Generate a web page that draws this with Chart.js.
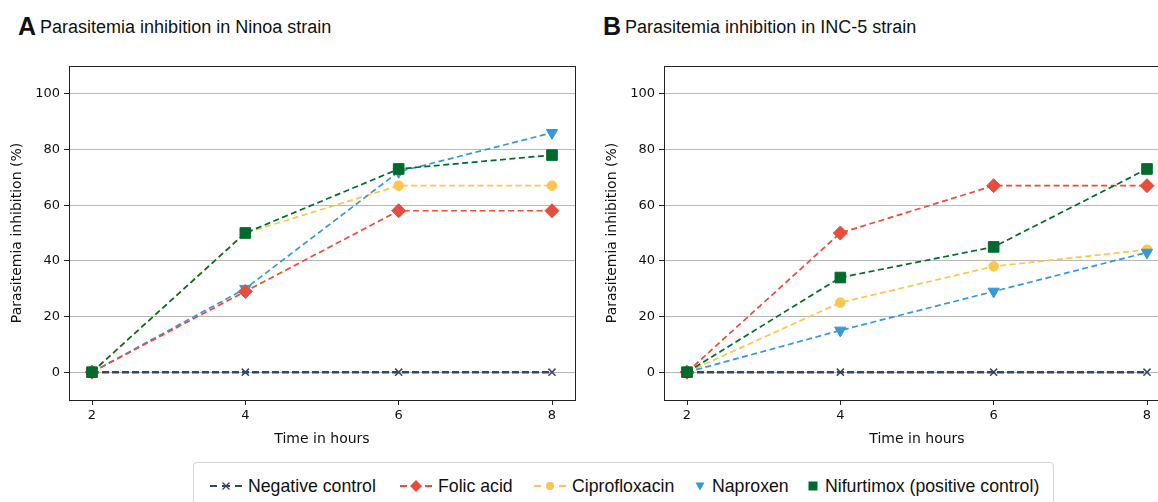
<!DOCTYPE html>
<html>
<head>
<meta charset="utf-8">
<script src="https://cdn.jsdelivr.net/npm/chart.js@4.4.0/dist/chart.umd.min.js"></script>
<style>
  html, body { margin:0; padding:0; background:#fff; }
  body { width:1158px; height:502px; overflow:hidden; position:relative; font-family:"Liberation Sans", Arial, sans-serif; }
  canvas { position:absolute; top:0; }
  .ttl { position:absolute; top:12px; font-size:18px; color:#111; white-space:nowrap; }
  .ttl b { font-size:25px; font-weight:bold; margin-right:4px; vertical-align:-2px; }
  #legend { position:absolute; left:193px; top:462px; width:861px; height:44px; border:1px solid #d4d4d4; border-radius:4px; box-sizing:border-box; }
  .li { position:absolute; top:3px; height:40px; display:flex; align-items:center; font-size:17.7px; color:#111; white-space:nowrap; }
  .li svg { margin-right:6px; }
</style>
</head>
<body>
<div class="ttl" style="left:18px;"><b>A</b>Parasitemia inhibition in Ninoa strain</div>
<div class="ttl" style="left:603px;"><b>B</b>Parasitemia inhibition in INC-5 strain</div>
<canvas id="cA" width="590" height="455" style="left:0px;"></canvas>
<canvas id="cB" width="590" height="455" style="left:595px;"></canvas>
<div id="legend"></div>
<script>
// ---- data ----
const hours = [2, 4, 6, 8];
const xTicks = [2, 4, 6, 8];
const yTicks = [0, 20, 40, 60, 80, 100];
const seriesNames = ["Negative control", "Folic acid", "Ciprofloxacin", "Naproxen", "Nifurtimox (positive control)"];
// Panel A (Ninoa strain)
const ninoaNegative   = [0, 0, 0, 0];
const ninoaFolic      = [0, 29, 58, 58];
const ninoaCipro      = [0, 50, 67, 67];
const ninoaNaproxen   = [0, 30, 72, 86];
const ninoaNifurtimox = [0, 50, 73, 78];
// Panel B (INC-5 strain)
const incNegative   = [0, 0, 0, 0];
const incFolic      = [0, 50, 67, 67];
const incCipro      = [0, 25, 38, 44];
const incNaproxen   = [0, 15, 29, 43];
const incNifurtimox = [0, 34, 45, 73];

// ---- styles ----
const styles = [
  {color:'#34495e', point:'crossRot', radius:5, bw:2.5, dash:[7,3], order:4, pbw:1.5},
  {color:'#e74c3c', point:'rectRot', radius:7, bw:1.7, dash:[6,3.5], order:1, pbw:1},
  {color:'#ffc44d', point:'circle', radius:4.8, bw:1.7, dash:[6,3.5], order:3, pbw:1},
  {color:'#3498db', point:'triangle', radius:6.5, bw:1.7, dash:[6,3.5], order:2, pbw:1, rot:180},
  {color:'#006b2d', point:'rect', radius:7.5, bw:1.7, dash:[6,3.5], order:0, pbw:1}
];

function mkDatasets(arrs) {
  return arrs.map((arr, i) => {
    const s = styles[i];
    return {
      label: seriesNames[i],
      data: hours.map((h, k) => ({x: h, y: arr[k]})),
      borderColor: s.color,
      backgroundColor: s.color,
      borderWidth: s.bw,
      borderDash: s.dash,
      pointStyle: s.point,
      pointRadius: s.radius,
      pointHoverRadius: s.radius,
      pointBorderWidth: s.pbw,
      pointBorderColor: s.color,
      pointBackgroundColor: s.color,
      pointRotation: s.rot || 0,
      order: s.order,
      tension: 0,
      fill: false,
      clip: false
    };
  });
}

const framePlugin = {
  id: 'frame',
  afterDatasetsDraw(chart) {
    const {ctx, chartArea: a} = chart;
    ctx.save();
    ctx.strokeStyle = '#222';
    ctx.lineWidth = 1;
    ctx.strokeRect(Math.round(a.left) + 0.5, Math.round(a.top) + 0.5, Math.round(a.right - a.left), Math.round(a.bottom - a.top));
    ctx.restore();
  }
};

function mkChart(id, arrs) {
  return new Chart(document.getElementById(id), {
    type: 'line',
    data: { datasets: mkDatasets(arrs) },
    plugins: [framePlugin],
    options: {
      responsive: false,
      animation: false,
      events: [],
      layout: { padding: { top: 66, right: 15, left: 0, bottom: 0 } },
      plugins: { legend: { display: false }, tooltip: { enabled: false } },
      scales: {
        x: {
          type: 'linear', min: 1.7, max: 8.3,
          afterBuildTicks: s => { s.ticks = xTicks.map(v => ({value: v})); },
          afterFit: s => { s.height = 55; },
          grid: { drawOnChartArea: false, drawTicks: true, tickLength: 5, tickColor: '#222', tickWidth: 1 },
          border: { display: true, color: '#222', width: 1 },
          ticks: { color: '#111', padding: 3, font: { family: 'DejaVu Sans', size: 13 }, maxRotation: 0 },
          title: { display: true, text: 'Time in hours', color: '#111', font: { family: 'DejaVu Sans', size: 14 }, padding: { top: 0, bottom: 7 } }
        },
        y: {
          type: 'linear', min: -10, max: 110,
          afterBuildTicks: s => { s.ticks = yTicks.map(v => ({value: v})); },
          afterFit: s => { s.width = 69; },
          grid: { color: '#b8b8b8', lineWidth: 1, drawTicks: true, tickLength: 5, tickColor: '#222', tickWidth: 1 },
          border: { display: true, color: '#222', width: 1 },
          ticks: { color: '#111', padding: 4, font: { family: 'DejaVu Sans', size: 13 } },
          title: { display: true, text: 'Parasitemia inhibition (%)', color: '#111', font: { family: 'DejaVu Sans', size: 14 }, padding: { top: 9, bottom: 0 } }
        }
      }
    }
  });
}

mkChart('cA', [ninoaNegative, ninoaFolic, ninoaCipro, ninoaNaproxen, ninoaNifurtimox]);
mkChart('cB', [incNegative, incFolic, incCipro, incNaproxen, incNifurtimox]);

// ---- legend (HTML) ----
const legendX = [16, 206, 340, 500, 613]; // relative to legend box
const legendLine = [true, true, true, false, false];
function markerSvg(i) {
  const c = styles[i].color;
  switch (styles[i].point) {
    case 'crossRot': return `<path d="M-3.5,-3.5L3.5,3.5M-3.5,3.5L3.5,-3.5" stroke="${c}" stroke-width="1.3"/>`;
    case 'rectRot': return `<path d="M0,-6L6,0L0,6L-6,0Z" fill="${c}"/>`;
    case 'circle': return `<circle r="4" fill="${c}"/>`;
    case 'triangle': return `<path d="M-4.5,-3.5L4.5,-3.5L0,4.5Z" fill="${c}"/>`;
    case 'rect': return `<rect x="-4.5" y="-4.5" width="9" height="9" fill="${c}"/>`;
  }
}
const lg = document.getElementById('legend');
seriesNames.forEach((name, i) => {
  const d = document.createElement('div');
  d.className = 'li';
  d.style.left = legendX[i] + 'px';
  let svg;
  if (legendLine[i]) {
    const c = styles[i].color;
    svg = `<svg width="32" height="14" viewBox="-16 -7 32 14"><path d="M-16,0H-9M-4,0H4M9,0H16" stroke="${c}" stroke-width="2"/>${markerSvg(i)}</svg>`;
  } else {
    svg = `<svg width="12" height="14" viewBox="-6 -7 12 14">${markerSvg(i)}</svg>`;
  }
  d.innerHTML = svg + '<span>' + name + '</span>';
  lg.appendChild(d);
});
</script>
</body>
</html>
